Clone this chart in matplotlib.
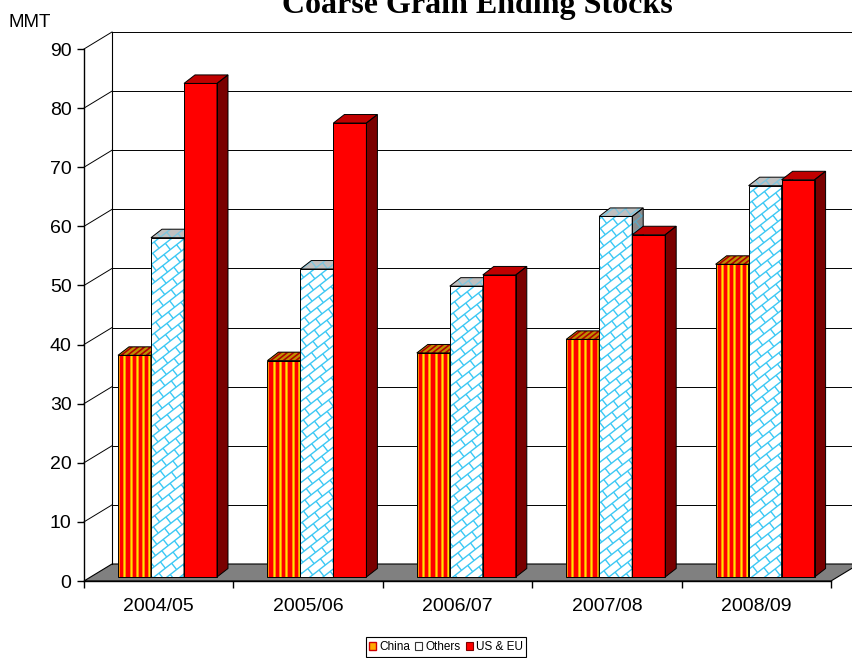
import numpy as np
import matplotlib.pyplot as plt
from matplotlib.patches import Polygon, Patch
from matplotlib.collections import LineCollection

plt.rcParams['font.family'] = ['Liberation Sans', 'DejaVu Sans']

years = ['2004/05', '2005/06', '2006/07', '2007/08', '2008/09']
china = [37.5, 36.6, 37.9, 40.2, 52.9]
others = [57.4, 52.1, 49.2, 61.0, 66.2]
us_eu = [83.5, 76.8, 51.1, 57.9, 67.2]
yticks = list(range(0, 91, 10))

W, H = 853, 658
fig = plt.figure(figsize=(W / 100, H / 100), dpi=100)
ax = fig.add_axes([84 / W, 77 / H, 747 / W, 532 / H])
ax.set_xlim(0, 5)
ax.set_ylim(0, 90)
ax.patch.set_visible(False)

# data units per pixel, used for the fake 3d offsets
px_x = 5 / 747
px_y = 90 / 532
WX, WY = 28 * px_x, 17 * px_y          # depth of the back wall
BDX, BDY = 11 * px_x, 8.5 * px_y       # depth of each bar
BX0, BY0 = 7 * px_x, 4 * px_y          # bar front sits a bit behind the floor edge
BW = 33 * px_x
GAP = 27 * px_x


def poly(pts, z, **kw):
    p = Polygon(pts, closed=True, clip_on=False, zorder=z, **kw)
    ax.add_patch(p)
    return p


# floor + back wall
poly([(0, 0), (5, 0), (5 + WX, WY), (WX, WY)], 1, facecolor='#808080',
     edgecolor='black', lw=0.8)
ax.plot([WX, WX], [WY, 90 + WY], color='black', lw=0.8, clip_on=False, zorder=1)
for v in yticks[1:]:
    ax.plot([WX, 5 + WX + 0.3], [v + WY, v + WY], color='black', lw=0.7,
            clip_on=False, zorder=1)
    ax.plot([0, WX], [v, v + WY], color='black', lw=0.7, clip_on=False, zorder=1)


def brick_segs(xmin, xmax, ymin, ymax, s=8.0, L=16.0, ang=38):
    # diagonal brick pattern laid out in pixel space, returned in data units
    a = np.radians(ang)
    u = np.array([np.cos(a), np.sin(a)])
    n = np.array([-np.sin(a), np.cos(a)])
    cx = np.array([xmin, xmax, xmax, xmin]) / px_x
    cy = np.array([ymin, ymin, ymax, ymax]) / px_y
    t = cx * u[0] + cy * u[1]
    m = cx * n[0] + cy * n[1]
    segs = []
    for k in range(int(np.floor(m.min() / s)) - 1, int(np.ceil(m.max() / s)) + 1):
        m0 = k * s
        p0 = t.min() * u + m0 * n
        p1 = t.max() * u + m0 * n
        segs.append([(p0[0] * px_x, p0[1] * px_y), (p1[0] * px_x, p1[1] * px_y)])
        j0 = int(np.floor(t.min() / L)) - 1
        j1 = int(np.ceil(t.max() / L)) + 1
        for j in range(j0, j1):
            tt = j * L + (k % 2) * L / 2
            q0 = tt * u + m0 * n
            q1 = tt * u + (m0 + s) * n
            segs.append([(q0[0] * px_x, q0[1] * px_y), (q1[0] * px_x, q1[1] * px_y)])
    return segs


def add_lines(segs, clip, z, color, lw):
    lc = LineCollection(segs, colors=color, linewidths=lw, zorder=z)
    ax.add_collection(lc)
    lc.set_clip_path(clip)


def draw_bar(x0, h, kind, z):
    x1 = x0 + BW
    y0, y1 = BY0, BY0 + h
    front = [(x0, y0), (x1, y0), (x1, y1), (x0, y1)]
    top = [(x0, y1), (x1, y1), (x1 + BDX, y1 + BDY), (x0 + BDX, y1 + BDY)]
    side = [(x1, y0), (x1 + BDX, y0 + BDY), (x1 + BDX, y1 + BDY), (x1, y1)]

    if kind == 'us':
        cols = {'front': '#FF0000', 'top': '#C00000', 'side': '#7A0000'}
    elif kind == 'china':
        cols = {'front': '#FF0000', 'top': '#B00000', 'side': '#7A0000'}
    else:
        cols = {'front': '#FFFFFF', 'top': '#C0C0C0', 'side': '#8C8C8C'}

    faces = {}
    for name, pts in (('side', side), ('top', top), ('front', front)):
        faces[name] = poly(pts, z, facecolor=cols[name], edgecolor='none')

    if kind == 'china':
        period = 6.3 * px_x
        xs = x0 + np.arange(0, BW + BDX, period)
        add_lines([[(x, y0), (x, y1)] for x in xs], faces['front'], z + 0.1,
                  '#FF9900', 2.0)
        add_lines([[(x, y0), (x, y1)] for x in xs], faces['front'], z + 0.15,
                  '#FFE400', 0.8)
        add_lines([[(x, y1), (x + BDX, y1 + BDY)] for x in xs], faces['top'],
                  z + 0.1, '#C09000', 1.6)
    elif kind == 'others':
        add_lines(brick_segs(x0, x1, y0, y1), faces['front'], z + 0.1,
                  '#3CC8F4', 1.0)
        add_lines(brick_segs(x0, x1 + BDX, y1, y1 + BDY), faces['top'], z + 0.1,
                  '#7EC6DE', 1.0)
        add_lines(brick_segs(x1, x1 + BDX, y0, y1 + BDY), faces['side'], z + 0.1,
                  '#5FA6C0', 1.0)

    for pts in (side, top, front):
        poly(pts, z + 0.2, fill=False, edgecolor='black', lw=0.7)


z = 3
for i in range(len(years)):
    x = i + GAP + BX0
    for kind, vals in (('china', china), ('others', others), ('us', us_eu)):
        draw_bar(x, vals[i], kind, z)
        x += BW
        z += 1

# axes styling
for side in ('top', 'right'):
    ax.spines[side].set_visible(False)
for side in ('left', 'bottom'):
    ax.spines[side].set_linewidth(1.0)
    ax.spines[side].set_zorder(100)
ax.set_yticks(yticks)
ax.tick_params(axis='y', direction='out', length=5, width=1, pad=4, labelsize=14)
ax.set_xticks(range(6))
ax.set_xticklabels([])
ax.set_xticks(np.arange(5) + 0.5, years, minor=True)
ax.tick_params(axis='x', which='major', direction='out', length=5, width=1)
ax.tick_params(axis='x', which='minor', length=0, pad=12, labelsize=14)

fig.text(9 / W, 1 - 27 / H, 'MMT', fontsize=13.5, ha='left', va='baseline')
fig.text(477 / W, 1 - 13 / H, 'Coarse Grain Ending Stocks', fontsize=23,
         fontweight='bold', family='Liberation Serif', ha='center', va='baseline')

handles = [
    Patch(facecolor='#FFA800', edgecolor='#D00000', lw=1.0, label='China'),
    Patch(facecolor='white', edgecolor='#333333', lw=0.8, label='Others'),
    Patch(facecolor='#FF0000', edgecolor='#800000', lw=0.8, label='US & EU'),
]
leg = fig.legend(handles=handles, loc='center', bbox_to_anchor=(446 / W, 1 - 647 / H),
                 ncol=3, fontsize=8.5, frameon=True, fancybox=False, framealpha=1,
                 edgecolor='black', handlelength=0.6, handleheight=0.6,
                 handletextpad=0.25, columnspacing=0.45, borderpad=0.3,
                 borderaxespad=0)
leg.get_frame().set_linewidth(0.8)

fig.savefig('out.png', dpi=100)
